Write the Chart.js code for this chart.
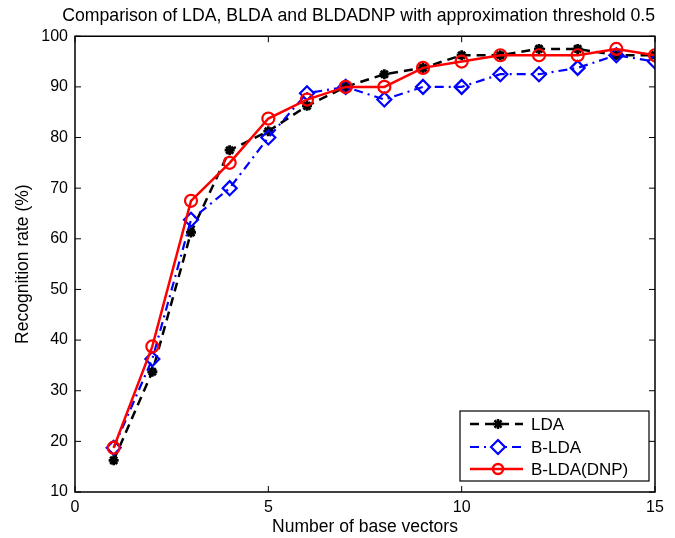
<!DOCTYPE html>
<html>
<head>
<meta charset="utf-8">
<script src="https://cdn.jsdelivr.net/npm/chart.js@4"></script>
<style>
html,body{margin:0;padding:0;background:#fff;}
#wrap{width:675px;height:538px;position:relative;}
</style>
</head>
<body>
<div id="wrap"><canvas id="c"></canvas></div>
<script>
const baseVectors = [1,2,3,4,5,6,7,8,9,10,11,12,13,14,15];
const ldaRate   = [16.25,33.75,61.25,77.5,81.25,86.25,90,92.5,93.75,96.25,96.25,97.5,97.5,96.25,96.25];
const bldaRate  = [18.75,36.25,63.75,70,80,88.75,90,87.5,90,90,92.5,92.5,93.75,96.25,95];
const dnpRate   = [18.75,38.75,67.5,75,83.75,87.5,90,90,93.75,95,96.25,96.25,96.25,97.5,96.25];
const seriesNames = ['LDA','B-LDA','B-LDA(DNP)'];
const xTicks = [0,5,10,15];
const yTicks = [10,20,30,40,50,60,70,80,90,100];
const titleText = 'Comparison of LDA, BLDA and BLDADNP with approximation threshold 0.5';
const xLabel = 'Number of base vectors';
const yLabel = 'Recognition rate (%)';

const FONT = '"Liberation Sans", Arial, Helvetica, sans-serif';
const pts = arr => arr.map((v,i)=>({x:baseVectors[i], y:v}));

const boxPlugin = {
  id:'matlabBox',
  afterDatasetsDraw(chart){
    const {ctx, chartArea:a, scales:{x,y}} = chart;
    ctx.save();
    ctx.strokeStyle = '#000';
    ctx.lineWidth = 1.5;
    ctx.strokeRect(a.left, a.top, a.right-a.left, a.bottom-a.top);
    ctx.lineWidth = 1;
    const L = 6;
    ctx.beginPath();
    xTicks.forEach(v=>{
      const px = x.getPixelForValue(v);
      ctx.moveTo(px, a.bottom); ctx.lineTo(px, a.bottom-L);
      ctx.moveTo(px, a.top); ctx.lineTo(px, a.top+L);
    });
    yTicks.forEach(v=>{
      const py = y.getPixelForValue(v);
      ctx.moveTo(a.left, py); ctx.lineTo(a.left+L, py);
      ctx.moveTo(a.right, py); ctx.lineTo(a.right-L, py);
    });
    ctx.stroke();

    // legend
    const bx = 460, by = 411, bw = 189, bh = 70;
    ctx.fillStyle = '#fff';
    ctx.fillRect(bx, by, bw, bh);
    ctx.lineWidth = 1.2;
    ctx.strokeRect(bx, by, bw, bh);
    const rows = [424, 447, 469];
    chart.data.datasets.forEach((ds, i)=>{
      const yy = rows[i];
      ctx.save();
      ctx.strokeStyle = ds.borderColor;
      ctx.lineWidth = ds.borderWidth;
      ctx.setLineDash(ds.borderDash || []);
      ctx.beginPath(); ctx.moveTo(470, yy); ctx.lineTo(523, yy); ctx.stroke();
      ctx.setLineDash([]);
      ctx.fillStyle = ds.pointBackgroundColor;
      if (ds.pointStyle === 'rectRot') { ctx.fillStyle = '#fff'; }
      Chart.helpers.drawPoint(ctx, {pointStyle: ds.pointStyle, radius: ds.pointStyle==='circle'?5:ds.pointRadius, borderWidth: ds.pointBorderWidth}, 498, yy);
      ctx.restore();
      ctx.fillStyle = '#000';
      ctx.font = '17px ' + FONT;
      ctx.textBaseline = 'middle';
      ctx.textAlign = 'left';
      ctx.fillText(ds.label, 531, yy+1);
    });
    ctx.restore();
  }
};

new Chart(document.getElementById('c'), {
  type:'line',
  data:{
    datasets:[
      {label:seriesNames[0], data:pts(ldaRate), borderColor:'#000', backgroundColor:'#000',
       borderWidth:2.5, borderDash:[9,6], pointStyle:'star', pointRadius:5, pointBorderWidth:2.8,
       pointBackgroundColor:'#000', pointBorderColor:'#000', order:3},
      {label:seriesNames[1], data:pts(bldaRate), borderColor:'#0000ff', backgroundColor:'rgba(0,0,0,0)',
       borderWidth:2.2, borderDash:[9,5,2,5], pointStyle:'rectRot', pointRadius:7, pointBorderWidth:2.2,
       pointBackgroundColor:'rgba(0,0,0,0)', pointBorderColor:'#0000ff', order:2},
      {label:seriesNames[2], data:pts(dnpRate), borderColor:'#ff0000', backgroundColor:'rgba(0,0,0,0)',
       borderWidth:2.5, pointStyle:'circle', pointRadius:6, pointBorderWidth:2.2,
       pointBackgroundColor:'rgba(0,0,0,0)', pointBorderColor:'#ff0000', order:1}
    ]
  },
  options:{
    responsive:true, maintainAspectRatio:false, animation:false,
    layout:{padding:{left:0,right:20,top:0,bottom:0}},
    plugins:{
      legend:{display:false}, tooltip:{enabled:false},
      title:{display:true, text:titleText, color:'#000', align:'end', font:{family:FONT,size:17.7,weight:'normal'},
             padding:{top:5,bottom:10}}
    },
    scales:{
      x:{type:'linear', min:0, max:15,
         afterBuildTicks(s){ s.ticks = xTicks.map(v=>({value:v})); },
         afterFit(s){ s.height = 46; },
         grid:{display:false, drawTicks:false}, border:{display:false},
         ticks:{color:'#000', font:{family:FONT,size:16}, padding:6, maxRotation:0},
         title:{display:true, text:xLabel, color:'#000', font:{family:FONT,size:17.5}, padding:{top:0,bottom:0}}},
      y:{type:'linear', min:10, max:100,
         afterBuildTicks(s){ s.ticks = yTicks.map(v=>({value:v})); },
         afterFit(s){ s.width = 75; },
         grid:{display:false, drawTicks:false}, border:{display:false},
         ticks:{color:'#000', font:{family:FONT,size:16}, padding:7},
         title:{display:true, text:yLabel, color:'#000', font:{family:FONT,size:17.5}, padding:{top:12.5,bottom:0}}}
    }
  },
  plugins:[boxPlugin]
});
</script>
</body>
</html>
